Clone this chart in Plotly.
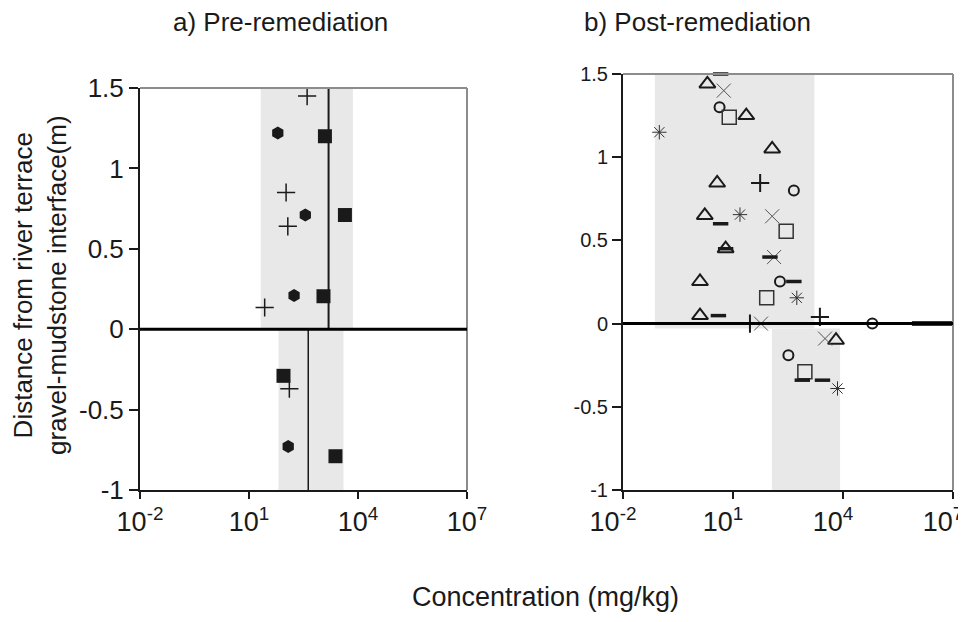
import plotly.graph_objects as go

# ---------------- data (concentration mg/kg, distance m) ----------------
# a) Pre-remediation
pre_plus_x = [398, 105, 117, 27, 129]
pre_plus_y = [1.45, 0.85, 0.64, 0.135, -0.37]
pre_circle_x = [62, 355, 174, 120]
pre_circle_y = [1.22, 0.71, 0.21, -0.73]
pre_square_x = [1230, 4365, 1122, 89, 2399]
pre_square_y = [1.20, 0.71, 0.205, -0.29, -0.79]
pre_mean_upper = 1549      # gravel layer mean
pre_mean_lower = 427       # mudstone layer mean
pre_band_upper = [21, 7244]
pre_band_lower = [65, 3981]

# b) Post-remediation
post_tri_x = [2.0, 23, 117, 3.7, 1.7, 6.3, 1.26, 1.26, 6457]
post_tri_y = [1.44, 1.25, 1.05, 0.845, 0.65, 0.45, 0.253, 0.048, -0.10]
post_x_x = [5.6, 117, 132, 58, 3236]
post_x_y = [1.40, 0.645, 0.40, 0.0, -0.09]
post_circle_x = [4.3, 457, 191, 63096, 324]
post_circle_y = [1.30, 0.80, 0.253, 0.0, -0.19]
post_square_x = [7.9, 282, 83, 912]
post_square_y = [1.24, 0.555, 0.155, -0.29]
post_ast_x = [0.098, 15.5, 550, 7079]
post_ast_y = [1.15, 0.655, 0.155, -0.39]
post_plus_x = [55, 29, 2344]
post_plus_y = [0.845, 0.0, 0.04]
post_dash_x = [4.6, 4.6, 102, 457, 4.0, 776, 2754, 6.3]
post_dash_y = [1.5, 0.60, 0.40, 0.253, 0.048, -0.34, -0.34, 0.45]
post_band_upper = [0.074, 1660]
post_band_lower = [115, 8318]
post_band_split = -0.03
post_segment_x = [758578, 1e7]

y_top, y_bottom = 1.5, -1.0

x_tickvals = [1e-2, 1e1, 1e4, 1e7]
x_ticktext = ["10<sup>-2</sup>", "10<sup>1</sup>", "10<sup>4</sup>", "10<sup>7</sup>"]
y_tickvals = [-1, -0.5, 0, 0.5, 1, 1.5]
y_ticktext = ["-1", "-0.5", "0", "0.5", "1", "1.5"]

BAND = "#e8e8e8"
INK = "#1a1a1a"
FONT = "Liberation Sans, Arial, sans-serif"

fig = go.Figure()


def band(x, y0, y1, xa, ya):
    fig.add_trace(go.Scatter(x=[x[0], x[1], x[1], x[0], x[0]], y=[y0, y0, y1, y1, y0],
                             fill="toself", fillcolor=BAND, mode="none",
                             xaxis=xa, yaxis=ya, hoverinfo="skip", showlegend=False))


def pts(x, y, xa, ya, symbol, size, color=INK, lw=1.5):
    fig.add_trace(go.Scatter(x=x, y=y, mode="markers", xaxis=xa, yaxis=ya, showlegend=False,
                             cliponaxis=False,
                             marker=dict(symbol=symbol, size=size, color=color,
                                         line=dict(color=color, width=lw))))


# ---- panel a ----
band(pre_band_upper, 0, y_top, "x", "y")
band(pre_band_lower, y_bottom, 0, "x", "y")
fig.add_trace(go.Scatter(x=[pre_mean_upper, pre_mean_upper], y=[0, y_top], mode="lines",
                         line=dict(color=INK, width=2), xaxis="x", yaxis="y", showlegend=False))
fig.add_trace(go.Scatter(x=[pre_mean_lower, pre_mean_lower], y=[y_bottom, 0], mode="lines",
                         line=dict(color=INK, width=1.5), xaxis="x", yaxis="y", showlegend=False))
pts(pre_circle_x, pre_circle_y, "x", "y", "hexagon", 13, lw=0)
pts(pre_square_x, pre_square_y, "x", "y", "square", 14, lw=0)
pts(pre_plus_x, pre_plus_y, "x", "y", "cross-thin-open", 13, lw=1.5)

# ---- panel b ----
band(post_band_upper, post_band_split, y_top, "x2", "y2")
band(post_band_lower, y_bottom, post_band_split, "x2", "y2")
fig.add_trace(go.Scatter(x=post_segment_x, y=[0, 0], mode="lines",
                         line=dict(color="#3a3531", width=5), xaxis="x2", yaxis="y2",
                         showlegend=False))
pts(post_tri_x, post_tri_y, "x2", "y2", "triangle-up-open", 14, lw=2)
pts(post_x_x, post_x_y, "x2", "y2", "x-thin-open", 14, color="#555555", lw=1)
pts(post_circle_x, post_circle_y, "x2", "y2", "circle-open", 10, lw=2)
pts(post_square_x, post_square_y, "x2", "y2", "square-open", 14, color="#333333", lw=1.5)
pts(post_ast_x, post_ast_y, "x2", "y2", "asterisk-open", 12, color="#333333", lw=1)
pts(post_plus_x, post_plus_y, "x2", "y2", "cross-thin-open", 13, lw=2)
pts(post_dash_x, post_dash_y, "x2", "y2", "line-ew-open", 11, lw=3.5)

# page body has an 8px margin, so the figure is laid out smaller and offset
OFF = 8
W, H = 966 - OFF, 622 - 2 * OFF


def px(v):
    return (v - OFF) / W


def py(v):
    return 1 - (v - OFF) / H


xa_dom = [px(140), px(467)]
xb_dom = [px(623), px(953)]
ya_dom = [py(490), py(88)]
yb_dom = [py(490), py(74)]

xcommon = dict(type="log", range=[-2, 7], tickvals=x_tickvals, ticktext=x_ticktext,
               showgrid=False, zeroline=False, showline=True, linecolor=INK, linewidth=2,
               ticks="outside", ticklen=7, tickwidth=2, tickcolor=INK, automargin=False,
               ticklabeloverflow="allow",
               tickfont=dict(family=FONT, size=27, color=INK))
ycommon = dict(range=[y_bottom, y_top], tickvals=y_tickvals, ticktext=y_ticktext,
               showgrid=False, zeroline=False, showline=True, linecolor=INK, linewidth=2,
               ticks="outside", ticklen=9, tickwidth=2, tickcolor=INK, automargin=False)

fig.update_layout(
    width=W, height=H, margin=dict(l=0, r=0, t=0, b=0, pad=0, autoexpand=False),
    paper_bgcolor="white", plot_bgcolor="white", showlegend=False,
    xaxis=dict(domain=xa_dom, anchor="y", **xcommon),
    xaxis2=dict(domain=xb_dom, anchor="y2", ticklabelshift=-10, **xcommon),
    yaxis=dict(domain=ya_dom, anchor="x", tickfont=dict(family=FONT, size=26, color=INK), **ycommon),
    yaxis2=dict(domain=yb_dom, anchor="x2", tickfont=dict(family=FONT, size=20, color=INK), **ycommon),
)

shapes = []
for xr, yr in (("x", "y"), ("x2", "y2")):
    # gray frame top & right
    shapes.append(dict(type="line", xref=f"{xr} domain", yref=f"{yr} domain",
                       x0=0, x1=1, y0=1, y1=1, line=dict(color="#8c8c8c", width=2)))
    shapes.append(dict(type="line", xref=f"{xr} domain", yref=f"{yr} domain",
                       x0=1, x1=1, y0=0, y1=1, line=dict(color="#8c8c8c", width=2)))
    # interface (zero) line
    shapes.append(dict(type="line", xref=f"{xr} domain", yref=yr,
                       x0=0, x1=1, y0=0, y1=0, line=dict(color="black", width=3)))
fig.update_layout(shapes=shapes)

ann_font = dict(family=FONT, size=26, color=INK)
fig.update_layout(annotations=[
    dict(text="a) Pre-remediation", x=px(280), y=py(22), xref="paper", yref="paper",
         showarrow=False, font=ann_font, xanchor="center", yanchor="middle"),
    dict(text="b) Post-remediation", x=px(697), y=py(22), xref="paper", yref="paper",
         showarrow=False, font=ann_font, xanchor="center", yanchor="middle"),
    dict(text="Concentration (mg/kg)", x=px(545), y=py(597), xref="paper", yref="paper",
         showarrow=False, font=dict(family=FONT, size=27, color=INK),
         xanchor="center", yanchor="middle"),
    dict(text="Distance from river terrace<br>gravel-mudstone interface(m)", x=px(40),
         y=py(285), xref="paper", yref="paper", textangle=-90, showarrow=False,
         font=dict(family=FONT, size=26, color=INK), xanchor="center", yanchor="middle"),
])

fig.write_html("out.html")
